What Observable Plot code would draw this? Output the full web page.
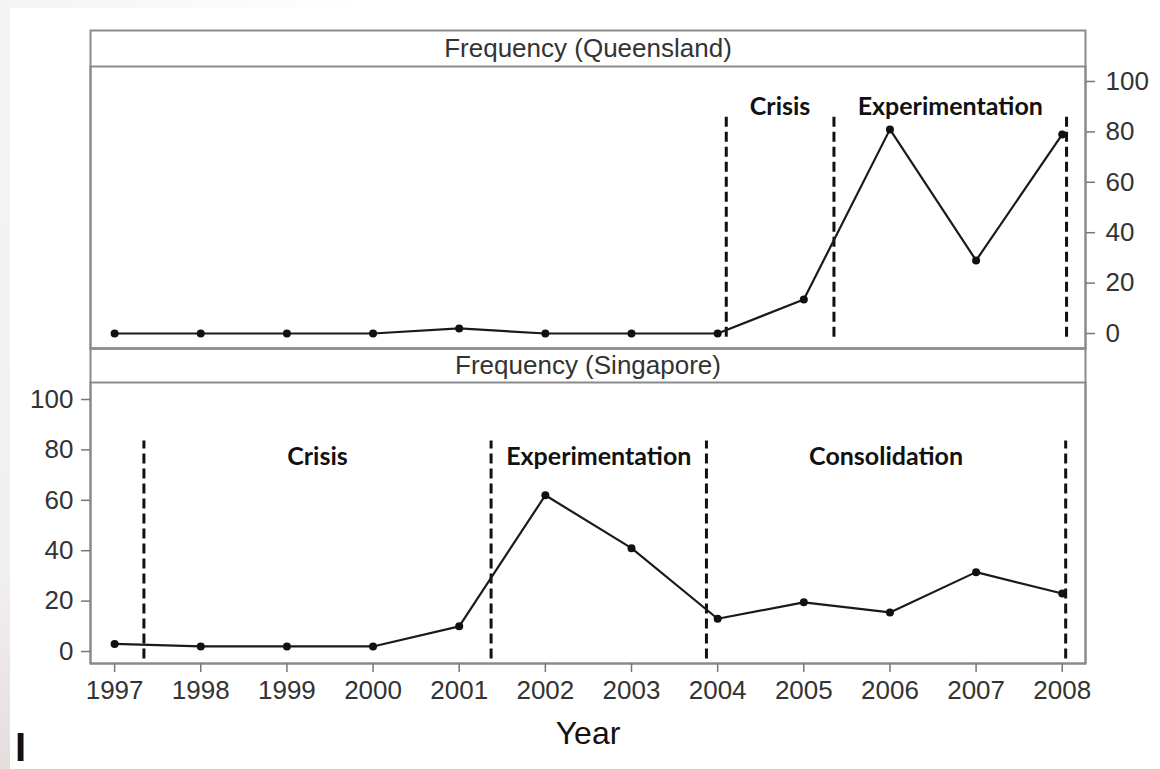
<!DOCTYPE html>
<html>
<head>
<meta charset="utf-8">
<script src="https://cdn.jsdelivr.net/npm/d3@7"></script>
<script src="https://cdn.jsdelivr.net/npm/@observablehq/plot@0.6"></script>
<style>
html, body { margin: 0; padding: 0; background: #fff; }
#wrap { position: relative; width: 1160px; height: 769px; overflow: hidden; background: #fff; }
#edge { position: absolute; left: 0; top: 0; width: 10px; height: 769px; background: linear-gradient(#f5f3f3, #f2efef 75%, #e6dddd); }
#topedge { position: absolute; left: 0; top: 0; width: 360px; height: 8px; background: linear-gradient(to right, #f5f3f3, #ffffff); }
#top { position: absolute; left: 0; top: 0; }
#bot { position: absolute; left: 0; top: 340px; }
#stray { position: absolute; left: 15px; top: 727px; font: bold 40px/40px "Liberation Sans", Arial, sans-serif; color: #111; }
</style>
</head>
<body>
<div id="wrap">
  <div id="edge"></div>
  <div id="topedge"></div>
  <div id="top"></div>
  <div id="bot"></div>
  <div id="stray">I</div>
</div>
<script>
// ---- data ----
const years = [1997, 1998, 1999, 2000, 2001, 2002, 2003, 2004, 2005, 2006, 2007, 2008];
const queensland = [0, 0, 0, 0, 2, 0, 0, 0, 13.5, 81, 29, 79];
const singapore = [3, 2, 2, 2, 10, 62, 41, 13, 19.5, 15.5, 31.5, 23];
const yTicks = [0, 20, 40, 60, 80, 100];
const qldBoundaries = [2004.1, 2005.35, 2008.05];
const qldPhases = ["Crisis", "Experimentation"];
const sgpBoundaries = [1997.34, 2001.37, 2003.87, 2008.04];
const sgpPhases = ["Crisis", "Experimentation", "Consolidation"];
const stripTitles = ["Frequency (Queensland)", "Frequency (Singapore)"];
const axisTitle = "Year";

// ---- tables built from the arrays ----
const qldData = years.map((year, i) => ({year, value: queensland[i]}));
const sgpData = years.map((year, i) => ({year, value: singapore[i]}));
const phaseLabels = (bounds, names) => names.map((name, i) => ({name, x: (bounds[i] + bounds[i + 1]) / 2}));
const qldLabels = phaseLabels(qldBoundaries, qldPhases);
const sgpLabels = phaseLabels(sgpBoundaries, sgpPhases);

const FRAME = "#8a8a8a";
const TICKTXT = "#333";
const FONT = "'Liberation Sans', Arial, sans-serif";
const xDomain = [1996.72, 2008.27];
const DASH = {stroke: "#111", strokeWidth: 3, strokeDasharray: "10,5"};

const topPlot = Plot.plot({
  width: 1160, height: 350,
  marginTop: 66, marginBottom: 2, marginLeft: 90, marginRight: 75,
  style: {background: "transparent", fontFamily: FONT, overflow: "visible"},
  x: {domain: xDomain, axis: null},
  y: {domain: [-5.95, 105.95], axis: null},
  marks: [
    Plot.frame({insetTop: -36, stroke: FRAME, strokeWidth: 2}),
    Plot.frame({stroke: FRAME, strokeWidth: 2}),
    Plot.text([stripTitles[0]], {text: d => d, frameAnchor: "top", dy: -18, fontSize: 26, fill: "#333", lineAnchor: "middle"}),
    Plot.axisY({anchor: "right", ticks: yTicks, tickSize: 9, tickPadding: 11, fontSize: 26, color: TICKTXT, stroke: "#777", strokeWidth: 1.5, label: null}),
    Plot.ruleX(qldBoundaries, {x: d => d, y1: -1.5, y2: 86, ...DASH}),
    Plot.text(qldLabels, {x: "x", y: 90, text: "name", fontFamily: "Lato", fontWeight: "bold", fontSize: 25, fill: "#111", lineAnchor: "middle"}),
    Plot.line(qldData, {x: "year", y: "value", stroke: "#1a1a1a", strokeWidth: 2.2}),
    Plot.dot(qldData, {x: "year", y: "value", r: 4, fill: "#111"})
  ]
});

const botPlot = Plot.plot({
  width: 1160, height: 429,
  marginTop: 42, marginBottom: 106, marginLeft: 90, marginRight: 75,
  style: {background: "transparent", fontFamily: FONT, overflow: "visible"},
  x: {domain: xDomain, axis: null},
  y: {domain: [-4.76, 106.75], axis: null},
  marks: [
    Plot.frame({insetTop: -34, stroke: FRAME, strokeWidth: 2}),
    Plot.frame({stroke: FRAME, strokeWidth: 2}),
    Plot.text([stripTitles[1]], {text: d => d, frameAnchor: "top", dy: -17, fontSize: 26, fill: "#333", lineAnchor: "middle"}),
    Plot.axisY({anchor: "left", ticks: yTicks, tickSize: 9, tickPadding: 8, fontSize: 26, color: TICKTXT, stroke: "#777", strokeWidth: 1.5, label: null}),
    Plot.axisX({anchor: "bottom", ticks: years, tickFormat: d => String(d), tickSize: 9, tickPadding: 8, fontSize: 26, color: TICKTXT, stroke: "#777", strokeWidth: 1.5, label: null}),
    Plot.text([axisTitle], {text: d => d, frameAnchor: "bottom", dy: 70, fontSize: 32, fill: "#111", lineAnchor: "middle"}),
    Plot.ruleX(sgpBoundaries, {x: d => d, y1: -3, y2: 83.5, ...DASH}),
    Plot.text(sgpLabels, {x: "x", y: 77, text: "name", fontFamily: "Lato", fontWeight: "bold", fontSize: 25, fill: "#111", lineAnchor: "middle"}),
    Plot.line(sgpData, {x: "year", y: "value", stroke: "#1a1a1a", strokeWidth: 2.2}),
    Plot.dot(sgpData, {x: "year", y: "value", r: 4, fill: "#111"})
  ]
});

document.getElementById("top").append(topPlot);
document.getElementById("bot").append(botPlot);
</script>
</body>
</html>
